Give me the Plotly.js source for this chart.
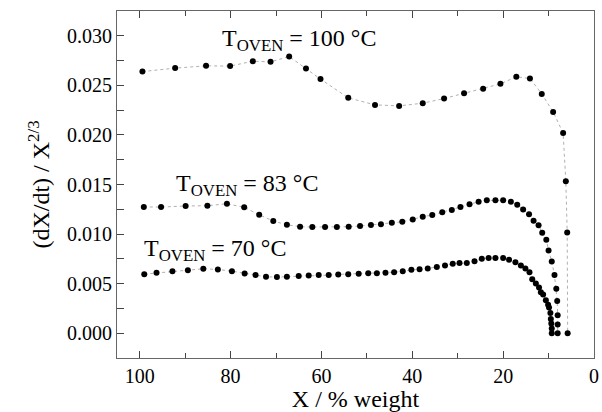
<!DOCTYPE html>
<html>
<head>
<meta charset="utf-8">
<script src="https://cdn.plot.ly/plotly-3.0.1.min.js"></script>
<style>html,body{margin:0;padding:0;background:#fff;}#chart{width:602px;height:412px;}</style>
</head>
<body>
<div id="chart"></div>
<script>
// T_OVEN = 100 °C
const x100 = [99.4, 92.2, 85.4, 80.1, 75.1, 71.2, 67.1, 63.4, 60.2, 54.1, 48.2, 42.9, 37.7, 33.0, 28.6, 24.4, 20.6, 17.1, 14.1, 11.5, 9.0, 6.8, 6.2, 5.9, 5.8];
const y100 = [0.02639, 0.02674, 0.02697, 0.02694, 0.02744, 0.02737, 0.02791, 0.02670, 0.02563, 0.02374, 0.02303, 0.02293, 0.02320, 0.02367, 0.02421, 0.02465, 0.02515, 0.02586, 0.02569, 0.02414, 0.02232, 0.02020, 0.01532, 0.01017, 0.0];

// T_OVEN = 83 °C
const x83 = [99.1, 95.3, 89.9, 85.1, 80.8, 77.0, 73.7, 70.6, 67.6, 64.7, 62.0, 59.2, 56.6, 54.0, 51.5, 49.1, 46.9, 44.5, 42.2, 39.9, 37.7, 35.6, 33.4, 31.3, 29.4, 27.4, 25.4, 23.6, 21.7, 20.0, 18.3, 16.9, 15.6, 14.3, 13.3, 12.2, 11.4, 10.5, 10.0, 9.3, 8.7, 8.3, 8.1, 8.0, 8.0, 8.0];
const y83 = [0.01273, 0.01273, 0.01283, 0.01286, 0.01306, 0.01270, 0.01195, 0.01131, 0.01094, 0.01074, 0.01071, 0.01071, 0.01071, 0.01074, 0.01081, 0.01091, 0.01098, 0.01114, 0.01124, 0.01148, 0.01175, 0.01192, 0.01219, 0.01242, 0.01273, 0.01300, 0.01326, 0.01340, 0.01340, 0.01340, 0.01326, 0.01296, 0.01249, 0.01199, 0.01134, 0.01088, 0.01013, 0.00943, 0.00835, 0.00724, 0.00586, 0.00448, 0.00326, 0.00182, 0.00088, 0.0];

// T_OVEN = 70 °C
const x70 = [99.0, 96.3, 92.8, 89.4, 86.0, 82.8, 79.7, 76.9, 74.5, 72.2, 69.8, 67.6, 65.0, 62.8, 60.6, 58.4, 56.3, 54.1, 51.8, 49.7, 47.8, 45.9, 44.0, 42.1, 40.2, 38.4, 36.6, 34.6, 32.8, 31.1, 29.6, 28.0, 26.3, 24.7, 23.2, 21.7, 20.0, 18.7, 17.3, 16.1, 15.1, 14.2, 13.6, 12.8, 12.1, 11.7, 11.2, 10.6, 10.1, 9.9, 9.6, 9.5, 9.4, 9.3, 9.3];
const y70 = [0.00596, 0.00609, 0.00626, 0.00636, 0.00650, 0.00643, 0.00626, 0.00603, 0.00586, 0.00569, 0.00566, 0.00569, 0.00576, 0.00583, 0.00586, 0.00586, 0.00593, 0.00596, 0.00599, 0.00606, 0.00606, 0.00609, 0.00616, 0.00626, 0.00640, 0.00646, 0.00653, 0.00667, 0.00683, 0.00700, 0.00707, 0.00707, 0.00727, 0.00751, 0.00758, 0.00758, 0.00758, 0.00741, 0.00717, 0.00683, 0.00653, 0.00616, 0.00545, 0.00502, 0.00462, 0.00414, 0.00391, 0.00333, 0.00286, 0.00260, 0.00205, 0.00144, 0.00098, 0.00047, 0.0];

const xTickVals = [100, 80, 60, 40, 20, 0];
const yTickVals = [0, 0.005, 0.010, 0.015, 0.020, 0.025, 0.030];
const yTickText = ['0.000', '0.005', '0.010', '0.015', '0.020', '0.025', '0.030'];

const labels = ["T<sub>OVEN</sub> = 100 °C", "T<sub>OVEN</sub> = 83 °C", "T<sub>OVEN</sub> = 70 °C"];
const labelX = [82.4, 92.5, 99.5];
const labelY = [0.0296, 0.01495, 0.00838];

function series(x, y) {
  return {
    x: x, y: y, type: 'scatter', mode: 'lines+markers',
    line: {color: '#b0b0b0', width: 1, dash: 'dot'},
    marker: {color: '#000', size: 6},
    showlegend: false, hoverinfo: 'skip'
  };
}

const data = [series(x100, y100), series(x83, y83), series(x70, y70)];

const annotations = labels.map((t, i) => ({
  x: labelX[i], y: labelY[i], xref: 'x', yref: 'y', text: t,
  showarrow: false, xanchor: 'left', yanchor: 'middle',
  font: {family: 'Liberation Serif', size: 24, color: '#000'}
}));

const layout = {
  width: 602, height: 412,
  margin: {l: 117, r: 8, t: 11, b: 54},
  paper_bgcolor: '#fff', plot_bgcolor: '#fff',
  xaxis: {
    range: [105, 0], autorange: false,
    tickmode: 'array', tickvals: xTickVals,
    ticks: 'inside', ticklen: 7, tickwidth: 1, tickcolor: '#444',
    minor: {tickvals: [90, 70, 50, 30, 10], ticks: 'inside', ticklen: 5, tickcolor: '#444'},
    showline: true, linecolor: '#666', linewidth: 1, mirror: 'ticks',
    showgrid: false, zeroline: false,
    tickfont: {family: 'Times New Roman', size: 20, color: '#000'},
    title: {text: 'X / % weight', font: {family: 'Times New Roman', size: 24, color: '#000'}, standoff: 2}
  },
  yaxis: {
    range: [-0.0025, 0.0325], autorange: false,
    tickmode: 'array', tickvals: yTickVals, ticktext: yTickText,
    ticks: 'inside', ticklen: 7, tickwidth: 1, tickcolor: '#444',
    minor: {tickvals: [0.0025, 0.0075, 0.0125, 0.0175, 0.0225, 0.0275], ticks: 'inside', ticklen: 7, tickcolor: '#444'},
    showline: true, linecolor: '#666', linewidth: 1, mirror: true,
    showgrid: false, zeroline: false,
    tickfont: {family: 'Liberation Serif', size: 20, color: '#000'},
    title: {text: '(dX/dt) / X<sup>2/3</sup>', font: {family: 'Liberation Serif', size: 24, color: '#000'}, standoff: 10}
  },
  annotations: annotations
};

Plotly.newPlot('chart', data, layout, {displayModeBar: false, staticPlot: true});
</script>
</body>
</html>
